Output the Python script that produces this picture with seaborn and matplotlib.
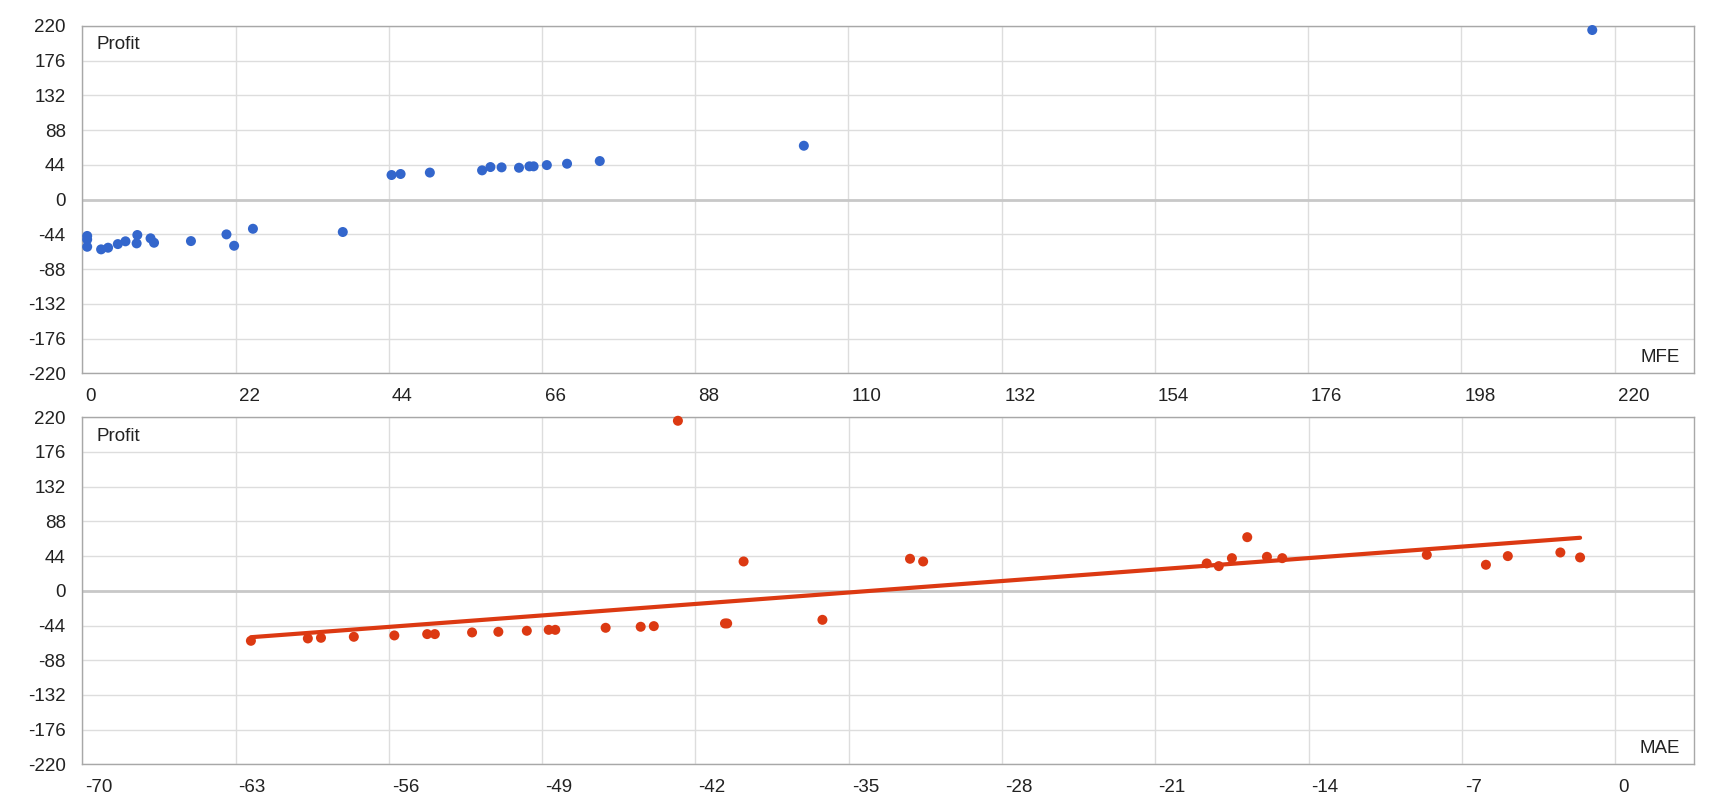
import numpy as np
import pandas as pd
import seaborn as sns
import matplotlib.pyplot as plt
from matplotlib.transforms import ScaledTranslation

# MFE vs profit (top panel)
mfe = [0.7, 0.7, 0.7, 2.7, 3.7, 5.1, 6.2, 7.9, 7.8, 9.8, 10.3, 15.6, 20.7, 21.8, 24.5, 37.4,
       44.4, 45.7, 49.9, 57.4, 58.6, 60.2, 62.7, 64.2, 64.8, 66.7, 69.6, 74.3, 103.6, 216.8]
mfe_profit = [-46.0, -50.5, -59.7, -63.0, -60.9, -56.3, -52.8, -44.8, -55.4, -49.0, -54.6, -52.5, -44.0, -58.4, -36.9, -41.0,
              31.2, 32.5, 34.3, 37.1, 41.3, 40.9, 40.4, 42.2, 42.2, 43.8, 45.5, 48.9, 68.3, 214.9]

# MAE vs profit (bottom panel)
mae = [-62.3, -59.7, -59.1, -57.6, -55.75, -54.25, -53.9, -52.2, -51.0, -49.7, -48.7, -48.4, -46.1, -44.5, -43.9,
       -42.8, -40.65, -40.55, -39.8, -36.2, -32.2, -31.6, -18.65, -18.1, -17.5, -16.8, -15.9, -15.2, -8.6, -5.9,
       -4.9, -2.5, -1.6]
mae_profit = [-63.4, -60.4, -59.6, -58.3, -56.6, -54.9, -54.9, -52.8, -52.0, -50.7, -49.5, -49.5, -46.9, -45.6, -44.8,
              215.6, -41.4, -41.4, 37.2, -36.8, 40.6, 37.2, 34.7, 31.3, 41.4, 68.0, 43.1, 41.4, 45.6, 33.0,
              44.0, 48.6, 42.3]

y_ticks = list(range(-220, 221, 44))
mfe_ticks = list(range(0, 221, 22))
mae_ticks = list(range(-70, 1, 7))

BLUE = "#3366cc"
RED = "#dc3912"

sns.set_style("white")
plt.rcParams['font.family'] = ['Liberation Sans', 'DejaVu Sans']
plt.rcParams['axes.unicode_minus'] = False

top_df = pd.DataFrame({"MFE": mfe, "Profit": mfe_profit})
bot_df = pd.DataFrame({"MAE": mae, "Profit": mae_profit})

fig = plt.figure(figsize=(17.2, 8), dpi=100)
ax1 = fig.add_axes([0.04785, 0.53338, 0.9370, 0.43413])
ax2 = fig.add_axes([0.04785, 0.044625, 0.9370, 0.43375])


def style_axis(ax, xticks, xlim, xname):
    ax.set_xlim(*xlim)
    ax.set_ylim(-220, 220)
    ax.set_xticks(xticks)
    ax.set_yticks(y_ticks)
    ax.set_xticklabels([str(t) for t in xticks])
    ax.set_yticklabels([str(t) for t in y_ticks])
    ax.grid(True, color="#dddddd", linewidth=1)
    ax.set_axisbelow(True)
    ax.axhline(0, color="#c8c8c8", linewidth=2, zorder=1)
    for s in ax.spines.values():
        s.set_color("#a8a8a8")
        s.set_linewidth(1)
    ax.tick_params(axis="x", direction="out", length=7.2, width=1, color="#a8a8a8",
                   pad=3.2, labelsize=13.5, labelcolor="#222222")
    ax.tick_params(axis="y", direction="out", length=7.7, width=1, color="#a8a8a8",
                   pad=4.3, labelsize=13.5, labelcolor="#222222")
    # labels start just right of their gridline, like the original chart
    off = ScaledTranslation(0.03, 0, fig.dpi_scale_trans)
    for lab in ax.get_xticklabels():
        lab.set_horizontalalignment("left")
        lab.set_transform(lab.get_transform() + off)
    ax.set_xlabel("")
    ax.set_ylabel("")
    ax.annotate("Profit", xy=(0, 1), xycoords="axes fraction", xytext=(14, -19),
                textcoords="offset pixels", ha="left", va="center", fontsize=13.5, color="#222222")
    ax.annotate(xname, xy=(1, 0), xycoords="axes fraction", xytext=(-14, 16),
                textcoords="offset pixels", ha="right", va="center", fontsize=13.5, color="#222222")


sns.scatterplot(data=top_df, x="MFE", y="Profit", ax=ax1, color=BLUE, s=52,
                edgecolor="none", zorder=3, clip_on=False)
style_axis(ax1, mfe_ticks, (0, 231.4), "MFE")

sns.scatterplot(data=bot_df, x="MAE", y="Profit", ax=ax2, color=RED, s=52,
                edgecolor="none", zorder=3, clip_on=False)
sns.regplot(data=bot_df, x="MAE", y="Profit", ax=ax2, scatter=False, ci=None,
            truncate=True, color=RED, line_kws={"linewidth": 3, "zorder": 2})
style_axis(ax2, mae_ticks, (-70, 3.6), "MAE")

fig.savefig("out.png", dpi=100)
